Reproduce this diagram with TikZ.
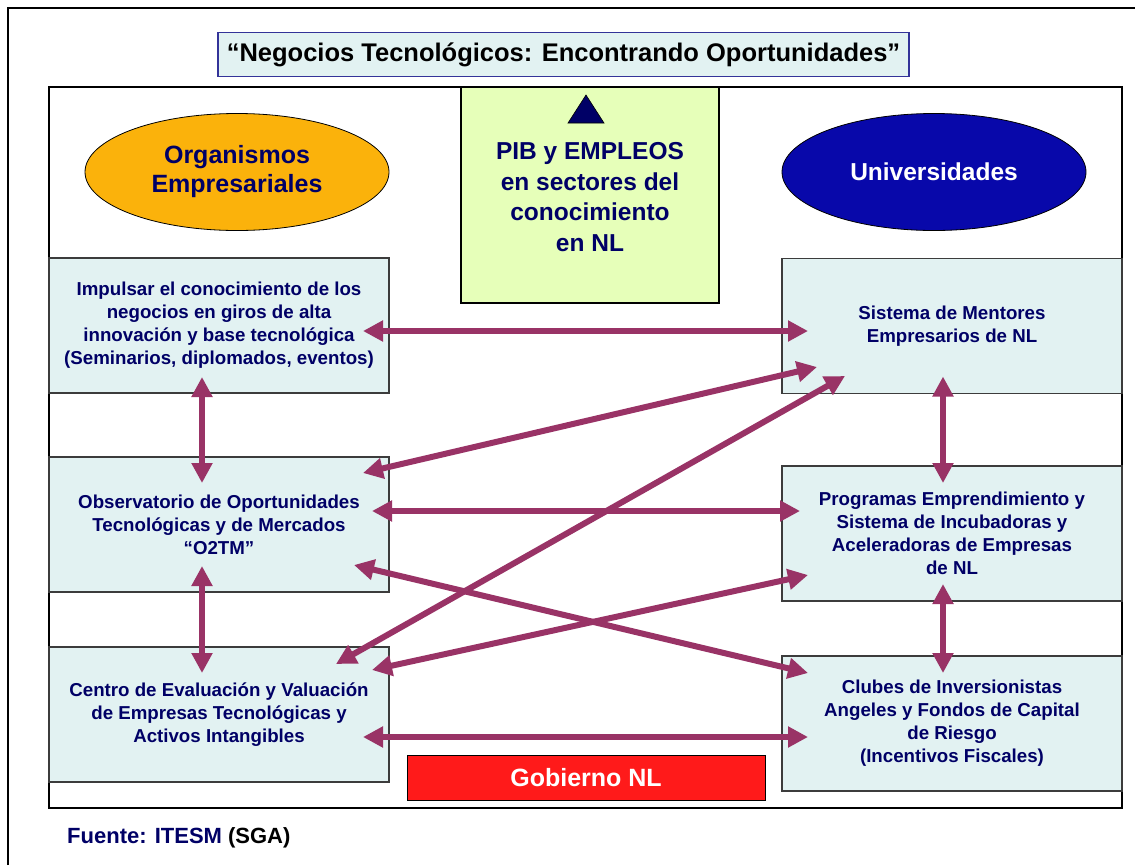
\documentclass[tikz,border=0pt]{standalone}
\usepackage{fontspec}
\setmainfont{Liberation Sans}
\usetikzlibrary{arrows.meta,shapes.geometric,calc}
\definecolor{navy}{RGB}{0,0,102}
\definecolor{boxfill}{RGB}{226,242,242}
\definecolor{boxline}{RGB}{60,60,60}
\definecolor{arrowc}{RGB}{153,51,102}
\definecolor{orangef}{RGB}{251,178,11}
\definecolor{bluef}{RGB}{8,8,170}
\definecolor{greenf}{RGB}{230,255,185}
\definecolor{redf}{RGB}{255,26,26}
\definecolor{titleline}{RGB}{51,51,153}
\tikzset{
  infobox/.style={draw=boxline, fill=boxfill, line width=1.5pt, outer sep=0pt, inner sep=0pt,
    minimum width=340pt, minimum height=135pt, align=center, text=navy,
    font=\bfseries\fontsize{18.7}{23}\selectfont},
  oval/.style={ellipse, draw=black, line width=0.8pt, outer sep=0pt, inner sep=0pt,
    minimum width=304pt, minimum height=117pt, align=center},
  arr/.style={draw=arrowc, line width=6pt,
    {Triangle[length=20pt,width=20pt]}-{Triangle[length=20pt,width=20pt]}}
}
\begin{document}
\begin{tikzpicture}[x=1pt,y=-1pt]
\useasboundingbox (0,0) rectangle (1135,865);
% outer frame (partial)
\draw[line width=2.2pt] (8,865) -- (8,8) -- (1135,8);
% title
\node[draw=titleline, fill=boxfill, line width=1.5pt, minimum width=691pt, minimum height=44pt,
  inner sep=0pt, font=\bfseries\fontsize{25.5}{28}\selectfont] (title) at (563.5,54.5)
  {“Negocios Tecnológicos: Encontrando Oportunidades”};
% main frame
\draw[line width=1.2pt, black] (49,87) rectangle (1122,808);
% green box
\node[draw=black, fill=greenf, line width=1.2pt, minimum width=258pt, minimum height=216pt,
  inner sep=0pt] (pib) at (590,195) {};
\filldraw[fill=navy, draw=black, line width=0.6pt] (586,95) -- (604,123) -- (568,123) -- cycle;
\node[align=center, text=navy, font=\bfseries\fontsize{24.5}{30.7}\selectfont] (pibtxt) at (590,197)
  {PIB y EMPLEOS\\en sectores del\\conocimiento\\en NL};
% ellipses
\node[oval, fill=orangef, text=navy, font=\bfseries\fontsize{25}{29}\selectfont] (org) at (237,172)
  {Organismos\\Empresariales};
\node[oval, fill=bluef, text=white, font=\bfseries\fontsize{24.5}{29}\selectfont] (uni) at (934,172)
  {Universidades};
% left boxes
\node[infobox] (L1) at (219,325.5) {Impulsar el conocimiento de los\\negocios en giros de alta\\innovación y base tecnológica\\(Seminarios, diplomados, eventos)};
\node[infobox] (L2) at (219,524.5) {Observatorio de Oportunidades\\Tecnológicas y de Mercados\\“O2TM”};
\node[infobox] (L3) at (219,714.5) {Centro de Evaluación y Valuación\\de Empresas Tecnológicas y\\Activos Intangibles};
% right boxes
\node[infobox] (R1) at (952,326) {Sistema de Mentores\\Empresarios de NL};
\node[infobox] (R2) at (952,533.5) {Programas Emprendimiento y\\Sistema de Incubadoras y\\Aceleradoras de Empresas\\de NL};
\node[infobox] (R3) at (952,723.5) {Clubes de Inversionistas\\Angeles y Fondos de Capital\\de Riesgo\\(Incentivos Fiscales)};
% gobierno
\node[draw=black, fill=redf, line width=1pt, minimum width=358pt, minimum height=45pt, inner sep=0pt,
  text=white, font=\bfseries\fontsize{25}{29}\selectfont] (gob) at (586,777.5) {Gobierno NL};
% footer
\node[anchor=base west, inner sep=0pt, font=\bfseries\fontsize{22}{25}\selectfont] (src) at (67,843)
  {\textcolor{navy}{Fuente: ITESM} (SGA)};
% arrows
\draw[arr] ($(L1.east)+(-26,5.5)$) -- ($(R1.west)+(26,5)$);
\draw[arr] ($(L1.south)+(-17,-16)$) -- ($(L2.north)+(-17,26)$);
\draw[arr] ($(L2.south)+(-17,-26)$) -- ($(L3.north)+(-17,26)$);
\draw[arr] ($(R1.south)+(-9,-17)$) -- ($(R2.north)+(-9,17)$);
\draw[arr] ($(R2.south)+(-9,-17)$) -- ($(R3.north)+(-9,17)$);
\draw[arr] ($(L2.east)+(-26,-51.5)$) -- ($(R1.west)+(35,41)$);
\draw[arr] ($(L2.east)+(-17,-13.5)$) -- ($(R2.west)+(18,-22.5)$);
\draw[arr] ($(L3.east)+(-53,-50.5)$) -- ($(R1.west)+(63,50)$);
\draw[arr] ($(L2.east)+(-35,40.5)$) -- ($(R3.west)+(26,-50.5)$);
\draw[arr] ($(L3.east)+(-17,-44.5)$) -- ($(R2.west)+(26,41.5)$);
\draw[arr] ($(L3.east)+(-26,22.5)$) -- ($(R3.west)+(26,13.5)$);
\end{tikzpicture}
\end{document}
